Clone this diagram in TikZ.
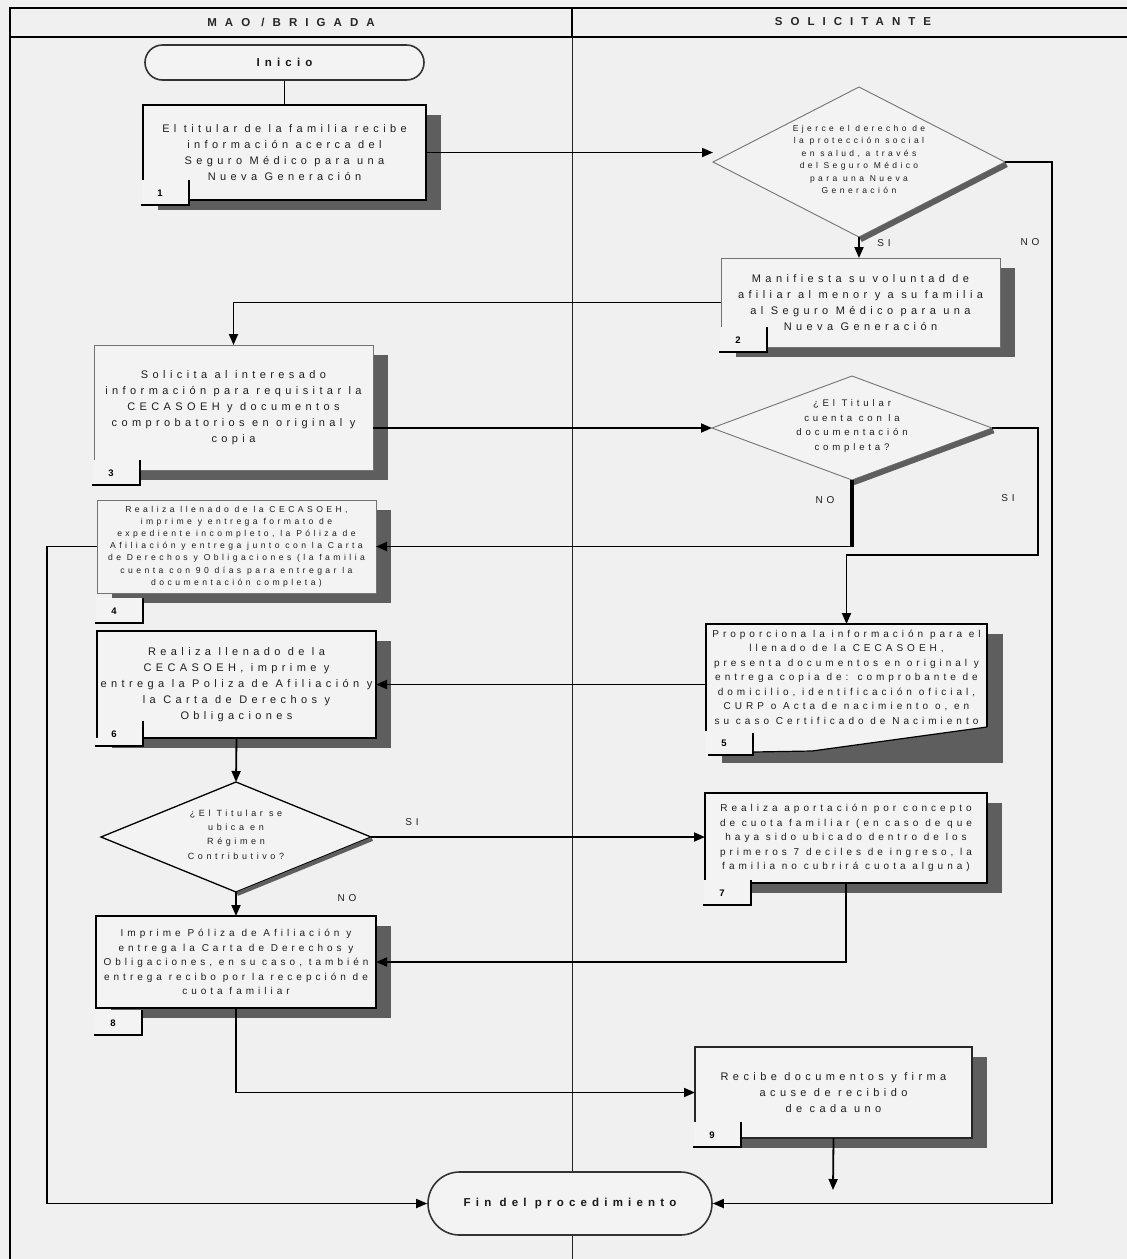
\documentclass[tikz,border=0pt]{standalone}
\usepackage{fontspec}
\setmainfont{Liberation Sans}[LetterSpace=40]
\usetikzlibrary{shapes.geometric,shapes.misc,arrows.meta}
\definecolor{bgc}{HTML}{F0F0F0}
\definecolor{boxfill}{HTML}{F3F3F3}
\definecolor{shadowc}{HTML}{5E5E5E}
\definecolor{textc}{HTML}{1E1E1E}
\tikzset{
  pbox/.style={rectangle, fill=boxfill, draw=black, line width=1.8pt, inner sep=0pt, outer sep=0pt,
    align=center, text=textc, font=\fontsize{11}{16}\selectfont},
  thinbox/.style={draw=black!55, line width=0.9pt},
  medbox/.style={draw=black!85, line width=1.3pt},
  f9/.style={font=\fontsize{10}{14.5}\selectfont},
  f75/.style={font=\fontsize{8.6}{12.2}\selectfont},
  tabline/.style={line width=2pt, black},
  numlbl/.style={font={\fontsize{9.5}{10}\selectfont\bfseries\addfontfeatures{LetterSpace=0}}, inner sep=0pt, text=black},
  dia/.style={diamond, fill=boxfill, inner sep=0pt, outer sep=0pt, text=textc},
  dshadow/.style={line width=5.5pt, shadowc},
  lbl/.style={font=\fontsize{10}{11}\selectfont, text=textc, inner sep=0pt},
  hdr/.style={font={\fontsize{11.5}{12}\selectfont\bfseries\addfontfeatures{LetterSpace=70}}, inner sep=0pt, text=black!85},
  term/.style={rounded rectangle, fill=boxfill, draw=black!80, line width=1.6pt, inner sep=0pt,
    font={\fontsize{11.5}{12}\selectfont\bfseries\addfontfeatures{LetterSpace=45}}, text=black!90},
  arr/.style={line width=1.8pt, -{Triangle[length=11pt,width=9pt]}},
  ln/.style={line width=1.8pt},
}
% #1 name, #2 left, #3 top, #4 right, #5 bottom, #6 number, #7 style, #8 tab offset, #9 text
\newcommand\procbox[9]{%
  \fill[shadowc] ({#2+15},{#3+10}) rectangle ({#4+15},{#5+10});
  \node[pbox,#7,minimum width={#4-#2},minimum height={#5-#3}] (#1) at ({(#2+#4)/2},{(#3+#5)/2}) {#9};
  \fill[boxfill] ({#2-1.5},{#5-20+#8}) rectangle ({#2+46},{#5+5+#8});
  \draw[tabline] ({#2-2},{#5+5+#8}) -- ({#2+46},{#5+5+#8}) -- ({#2+46},{#5-20+#8});
  \node[numlbl] (#1n) at ({#2+17},{#5-7+#8}) {#6};
}
\newcommand\dtext[1]{\smash{\begin{tabular}{@{}c@{}}#1\end{tabular}}}
\begin{document}
\begin{tikzpicture}[x=1pt,y=-1pt]
\useasboundingbox (0,0) rectangle (1127,1259);
\fill[bgc] (0,0) rectangle (1127,1259);
% frame and lanes
\draw[line width=0.8pt, black!85] (572,37) -- (572,1262);
\draw[line width=2pt] (10,1262) -- (10,8) -- (1130,8);
\draw[line width=2.5pt] (10,37) -- (1130,37);
\draw[line width=2pt] (572,8) -- (572,37);
\node[hdr] (h1) at (291,22) {MAO /BRIGADA};
\node[hdr] (h2) at (853,22) {SOLICITANTE};

% start
\node[term, minimum width=279pt, minimum height=35pt] (ini) at (284.5,62.5) {Inicio};

% box 1
\procbox{b1}{143}{105}{426}{200}{1}{}{0}{El titular de la familia recibe\\información acerca del\\Seguro Médico para una\\Nueva Generación}

% diamond 1
\node[dia, draw=black!55, line width=0.9pt, minimum width=292pt, minimum height=150pt, aspect=1.95,
  font=\fontsize{8.5}{12.4}\selectfont] (d1) at (859,162)
  {\dtext{Ejerce el derecho de\\la protección social\\en salud, a través\\del Seguro Médico\\para una Nueva\\Generación}};
\draw[dshadow] ([shift={(1.5,2.5)}]d1.east) -- ([shift={(1.5,2.5)}]d1.south);

% box 2
\procbox{b2}{721}{258}{1000}{347}{2}{thinbox}{0}{Manifiesta su voluntad de\\afiliar al menor y a su familia\\al Seguro Médico para una\\Nueva Generación}

% box 3
\procbox{b3}{94}{345}{373}{470}{3}{thinbox}{10}{Solicita al interesado\\información para requisitar la\\CECASOEH y documentos\\comprobatorios en original y\\copia}

% diamond 2
\node[dia, draw=black!55, line width=0.9pt, minimum width=280pt, minimum height=104pt, aspect=2.7,
  font=\fontsize{9.6}{14.6}\selectfont] (d2) at (852,428)
  {\dtext{¿El Titular\\cuenta con la\\documentación\\completa?}};
\draw[dshadow] ([shift={(1.5,2.5)}]d2.east) -- ([shift={(1.5,2.5)}]d2.south);

% box 4
\procbox{b4}{97}{500}{376}{593}{4}{thinbox,f75}{25}{Realiza llenado de la CECASOEH,\\imprime y entrega formato de\\expediente incompleto, la Póliza de\\Afiliación y entrega junto con la Carta\\de Derechos y Obligaciones (la familia\\cuenta con 90 días para entregar la\\documentación completa)}

% box 5 (document shape)
\fill[shadowc] (722,634) rectangle (1003,763);
\fill[boxfill] (706,624) -- (987,624) -- (987,727) -- (812,751) -- (753,752) -- (753,755) -- (706,755) -- cycle;
\node[pbox, draw=none, fill=none, f9, minimum width=281pt, minimum height=106pt] (b5) at (846.5,677)
  {Proporciona la información para el\\llenado de la CECASOEH,\\presenta documentos en original y\\entrega copia de: comprobante de\\domicilio, identificación oficial,\\CURP o Acta de nacimiento o, en\\su caso Certificado de Nacimiento};
\draw[line width=1.8pt] (706,731) -- (706,624) -- (987,624) -- (987,727);
\draw[line width=1.2pt] (987,727) -- (812,751) -- (753,752);
\draw[tabline] (708,755) -- (753,755) -- (753,733);
\node[numlbl] (b5n) at (724,743) {5};

% box 6
\procbox{b6}{97}{631}{376}{738}{6}{}{3}{Realiza llenado de la\\CECASOEH, imprime y\\entrega la Poliza de Afiliación y\\la Carta de Derechos y\\Obligaciones}
\draw[line width=1.8pt] (b6.north west) -- (b6.south west);

% diamond 3
\node[dia, draw=black, line width=1.3pt, minimum width=270pt, minimum height=110pt, aspect=2.45,
  font=\fontsize{9}{14.3}\selectfont] (d3) at (236,837)
  {\dtext{¿El Titular se\\ubica en\\Régimen\\Contributivo?}};
\draw[line width=4pt, shadowc] ([shift={(1.2,2)}]d3.east) -- ([shift={(1.2,2)}]d3.south);

% box 7
\procbox{b7}{705}{793}{987}{883}{7}{f9}{17}{Realiza aportación por concepto\\de cuota familiar (en caso de que\\haya sido ubicado dentro de los\\primeros 7 deciles de ingreso, la\\familia no cubrirá cuota alguna)}

% box 8
\procbox{b8}{96}{916}{376}{1008}{8}{f9}{22}{Imprime Póliza de Afiliación y\\entrega la Carta de Derechos y\\Obligaciones, en su caso, también\\entrega recibo por la recepción de\\cuota familiar}

% box 9
\procbox{b9}{695}{1047}{972}{1138}{9}{medbox}{4}{Recibe documentos y firma\\acuse de recibido\\de cada uno}

% end
\node[term, minimum width=284pt, minimum height=63pt] (fin) at (570,1203.5) {Fin del procedimiento};

% helper coordinates
\coordinate (lx) at (47,0);
\coordinate (rx1) at (1052,0);
\coordinate (rx2) at (1038,555);
\coordinate (e9) at (833,1190);

% connectors
\draw[ln] (ini.south) -- (b1.north);
\draw[arr] (b1.east) -- (b1.east -| d1.west);
\draw[arr] (d1.south) -- (d1.south |- b2.north);
\draw[arr] (d1.east) -- (d1.east -| rx1) |- (fin.east);
\draw[arr] (b2.west) -| (b3.north);
\draw[arr] (b3.east |- d2.west) -- (d2.west);
\draw[line width=4pt] (d2.south) -- (d2.south |- b4.east);
\draw[arr] (d2.south |- b4.east) -- (b4.east);
\draw[arr] (d2.east) -| (rx2) -| (b5.north);
\draw[arr] (b4.west) -- (b4.west -| lx) |- (fin.west);
\draw[arr] (b5.west |- b6.east) -- (b6.east);
\draw[arr] (b6.south) -- (d3.north);
\draw[arr] (d3.east) -- (d3.east -| b7.west);
\draw[arr] (d3.south) -- (d3.south |- b8.north);
\draw[arr] (b7.south) |- (b8.east);
\draw[arr] (b8.south) |- (b9.west);
\draw[arr] (b9.south) -- (e9);

% branch labels
\node[lbl] (l1) at (884,243) {SI};
\node[lbl] (l2) at (1030,242) {NO};
\node[lbl] (l3) at (825,500) {NO};
\node[lbl] (l4) at (1008,498) {SI};
\node[lbl] (l5) at (412,822) {SI};
\node[lbl] (l6) at (347,898) {NO};
\end{tikzpicture}
\end{document}
